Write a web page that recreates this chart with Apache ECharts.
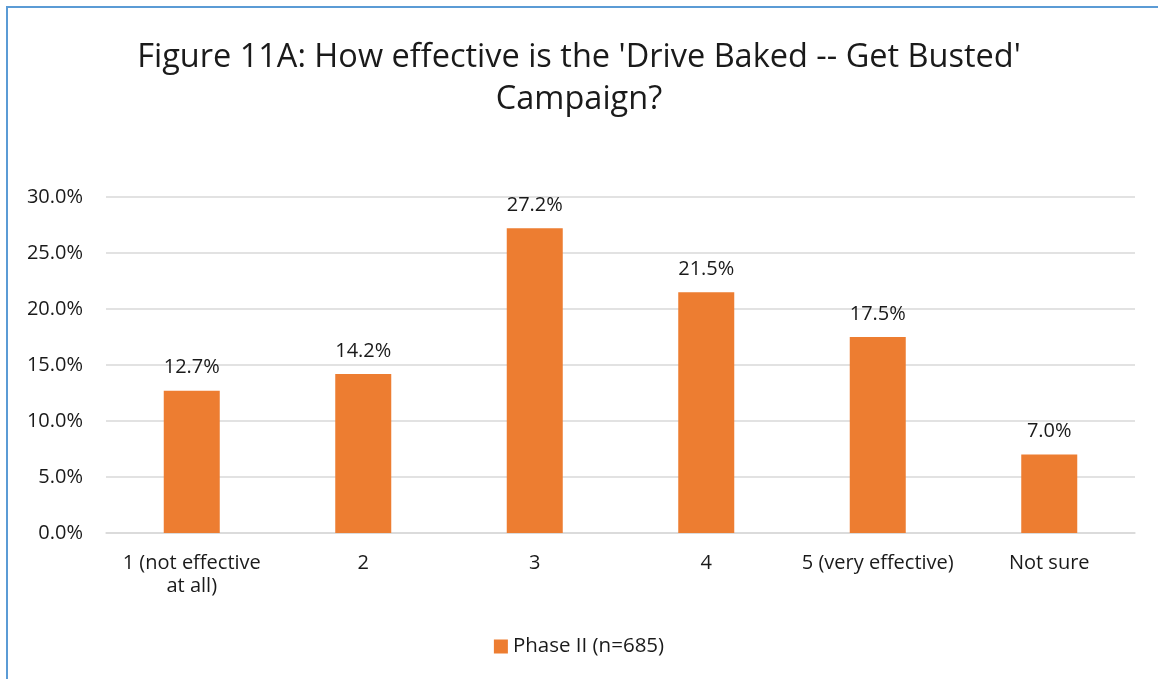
<!DOCTYPE html>
<html>
<head>
<meta charset="utf-8">
<script src="https://cdn.jsdelivr.net/npm/echarts@6/dist/echarts.min.js"></script>
<style>
  html, body { margin: 0; padding: 0; background: #fff; }
  #chart { width: 1158px; height: 679px; }
</style>
</head>
<body>
<div id="chart"></div>
<script>
// Survey responses: perceived effectiveness of the campaign
const categories = ['1 (not effective\nat all)', '2', '3', '4', '5 (very effective)', 'Not sure'];
const phaseII = [12.7, 14.2, 27.2, 21.5, 17.5, 7.0];
const seriesName = 'Phase II (n=685)';
const yTicks = { min: 0, max: 30, interval: 5 };

const FONT = '"Open Sans", "Noto Sans", sans-serif';
const TEXT = '#1a1a1a';

const chart = echarts.init(document.getElementById('chart'), null, { renderer: 'canvas' });
chart.setOption({
  animation: false,
  backgroundColor: '#fff',
  title: {
    text: "Figure 11A: How effective is the 'Drive Baked -- Get Busted'\nCampaign?",
    left: 'center',
    top: 32,
    textStyle: {
      fontFamily: FONT,
      fontSize: 32.5,
      fontWeight: 'normal',
      color: TEXT,
      lineHeight: 42
    }
  },
  graphic: [{
    type: 'rect',
    shape: { x: 7, y: 7, width: 1200, height: 700 },
    style: { fill: 'none', stroke: '#5B9BD5', lineWidth: 2 },
    silent: true
  }],
  legend: {
    bottom: 17,
    left: 'center',
    itemWidth: 14,
    itemHeight: 14,
    itemGap: 6,
    icon: 'rect',
    textStyle: { fontFamily: FONT, fontSize: 20.5, color: TEXT },
    data: [seriesName]
  },
  grid: { left: 106, right: 23, top: 197, bottom: 146 },
  xAxis: {
    type: 'category',
    data: categories,
    axisLine: { lineStyle: { color: '#d9d9d9', width: 1.5 } },
    axisTick: { show: false },
    axisLabel: {
      fontFamily: FONT, fontSize: 20, color: TEXT, margin: 19,
      lineHeight: 23, interval: 0
    }
  },
  yAxis: {
    type: 'value',
    min: yTicks.min,
    max: yTicks.max,
    interval: yTicks.interval,
    axisLine: { show: false },
    axisTick: { show: false },
    splitLine: { lineStyle: { color: '#d9d9d9', width: 1.5 } },
    axisLabel: {
      fontFamily: FONT, fontSize: 20, color: TEXT, margin: 23,
      formatter: v => v.toFixed(1) + '%'
    }
  },
  series: [{
    name: seriesName,
    type: 'bar',
    data: phaseII,
    barWidth: 56,
    itemStyle: { color: '#ED7D31' },
    label: {
      show: true,
      position: 'top',
      distance: 13,
      fontFamily: FONT,
      fontSize: 20,
      color: TEXT,
      formatter: p => p.value.toFixed(1) + '%'
    }
  }]
});
</script>
</body>
</html>
